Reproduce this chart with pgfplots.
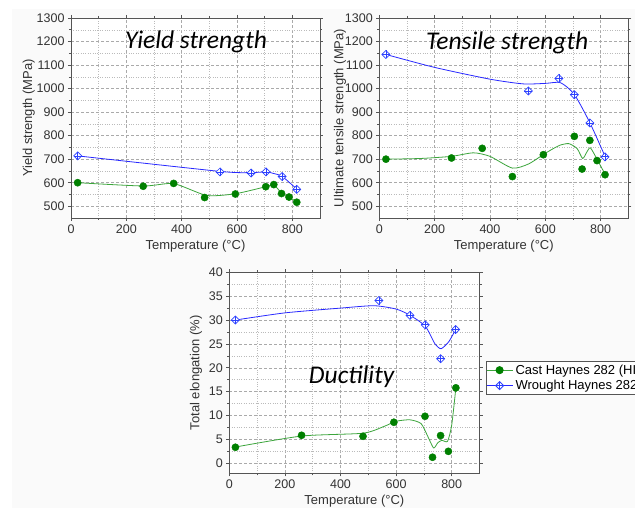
\documentclass[border=0pt]{standalone}
\usepackage{fontspec}
\setmainfont{Liberation Sans}
\newfontfamily\titlefont{Carlito}
\usepackage{pgfplots}
\pgfplotsset{compat=1.18}

\definecolor{castgreen}{RGB}{0,128,0}
\definecolor{castline}{RGB}{60,165,60}
\definecolor{wrblue}{RGB}{45,65,255}
\definecolor{wrline}{RGB}{40,40,255}
\definecolor{axgray}{RGB}{85,85,85}
\definecolor{gridgray}{RGB}{170,170,170}

% diamond with a cross inside
\pgfdeclareplotmark{dplus}{%
  \pgfpathmoveto{\pgfqpoint{0pt}{\pgfplotmarksize}}%
  \pgfpathlineto{\pgfqpoint{\pgfplotmarksize}{0pt}}%
  \pgfpathlineto{\pgfqpoint{0pt}{-\pgfplotmarksize}}%
  \pgfpathlineto{\pgfqpoint{-\pgfplotmarksize}{0pt}}%
  \pgfpathclose
  \pgfusepathqfillstroke
  \pgfpathmoveto{\pgfqpoint{0pt}{\pgfplotmarksize}}%
  \pgfpathlineto{\pgfqpoint{0pt}{-\pgfplotmarksize}}%
  \pgfpathmoveto{\pgfqpoint{\pgfplotmarksize}{0pt}}%
  \pgfpathlineto{\pgfqpoint{-\pgfplotmarksize}{0pt}}%
  \pgfusepathqstroke}

\pgfplotsset{
  panel/.style={
    scale only axis, width=249pt, height=200pt,
    xmin=0, xmax=900, xtick={0,200,...,800}, minor x tick num=1,
    minor y tick num=1,
    grid=both,
    major grid style={gridgray, dash pattern=on 3pt off 2pt, line width=0.5pt},
    minor grid style={gridgray!80, dotted, line width=0.5pt},
    axis line style={axgray, line width=0.9pt},
    tick style={axgray, line width=0.6pt},
    major tick length=3pt, minor tick length=2pt, tick align=outside,
    ticklabel style={font=\fontsize{12.5}{14}\selectfont, text=black!80},
    label style={font=\fontsize{13}{15}\selectfont, text=black!80},
    /pgf/number format/assume math mode=true,
    /pgf/number format/1000 sep={},
    axis background/.style={fill=white},
    xlabel={Temperature (°C)},
  },
  castpts/.style={only marks, mark=*, mark size=3.6pt, castgreen, forget plot},
  wrpts/.style={only marks, mark=dplus, mark size=4pt, wrblue, line width=0.7pt,
    mark options={fill=white}, forget plot},
  castfit/.style={castline, line width=0.8pt, smooth, tension=0.4, no marks, forget plot},
  wrfit/.style={wrline, line width=0.8pt, smooth, tension=0.4, no marks, forget plot},
}
\tikzset{ttl/.style={font=\titlefont\itshape\fontsize{25.5}{30}\selectfont}}

\begin{document}
\begin{tikzpicture}[x=1pt,y=1pt]
\fill[black!2] (12,0) rectangle (635,499);

% Yield strength
\begin{axis}[panel, at={(71pt,290pt)}, anchor=south west,
  ymin=450, ymax=1300, ytick={500,600,...,1300},
  ylabel={Yield strength (MPa)}, ylabel shift=-5pt]
\addplot[castfit] coordinates {(24,600) (261,586) (371,596) (490,546) (594,553) (704,583) (733,591) (761,556) (788,540) (816,517)};
\addplot[wrfit] coordinates {(24,714) (539,648) (651,643) (705,646) (730,640) (763,627) (816,573)};
\addplot[castpts] coordinates {(24,600) (261,585) (371,597) (483,537) (594,552) (704,583) (733,592) (761,554) (788,539) (816,517)};
\addplot[wrpts] coordinates {(24,714) (539,646) (651,641) (705,646) (763,626) (816,572)};
\node[ttl] at (axis cs:452,1197) {Yield strength};
\end{axis}

% Tensile strength
\begin{axis}[panel, at={(379.3pt,290pt)}, anchor=south west,
  ymin=450, ymax=1300, ytick={500,600,...,1300},
  ylabel={Ultimate tensile strength (MPa)}, ylabel shift=-8pt]
\addplot[castfit] coordinates {(24,700) (150,703) (261,712) (340,727) (400,712) (481,662) (540,680) (600,725) (650,758) (685,766) (715,745) (735,703) (750,730) (763,748) (787,700) (816,636)};
\addplot[wrfit] coordinates {(24,1145) (200,1090) (400,1040) (520,1020) (600,1022) (655,1025) (705,975) (761,855) (816,712)};
\addplot[castpts] coordinates {(24,700) (261,705) (372,746) (481,626) (593,719) (705,797) (733,658) (761,780) (787,694) (816,634)};
\addplot[wrpts] coordinates {(24,1145) (539,990) (649,1043) (705,974) (761,854) (816,710)};
\node[ttl] at (axis cs:462,1195) {Tensile strength};
\end{axis}

% Ductility
\begin{axis}[panel, at={(229.3pt,34.7pt)}, anchor=south west, width=250.2pt, height=201pt,
  ymin=-2.1, ymax=40, ytick={0,5,...,40},
  ylabel={Total elongation (\%)},
  legend style={at={(1.026,0.5587)}, anchor=north west, draw=axgray, fill=white,
    font=\fontsize{13}{15}\selectfont, inner xsep=0pt, inner ysep=2pt,
    row sep=1.5pt, nodes={inner xsep=2.5pt, inner ysep=1.5pt}},
  legend cell align=left,
  legend image code/.code={\draw[mark repeat=2, mark phase=2, #1]
    plot coordinates {(0pt,0pt) (13pt,0pt) (26pt,0pt)};}]
\addplot[castfit] coordinates {(22,3.4) (260,5.7) (481,6.3) (560,7.8) (600,8.8) (650,9.1) (690,8.3) (715,5.5) (735,3.2) (750,4.3) (765,4.8) (785,4.6) (800,8) (815,15.8)};
\addplot[wrfit] coordinates {(22,30) (200,31.5) (400,32.5) (520,33) (600,32.3) (650,31) (705,28.7) (740,25) (762,24) (790,25.5) (814,28)};
\addplot[castpts] coordinates {(22,3.35) (260,5.86) (481,5.65) (592,8.59) (704,9.84) (731,1.26) (760,5.8) (788,2.5) (815,15.8)};
\addplot[wrpts] coordinates {(22,30.0) (538,34.07) (650,31.0) (705,29.0) (760,21.9) (814,28.0)};
\node[ttl] at (axis cs:440,18.1) {Ductility};
\addlegendimage{castline, line width=0.8pt, mark=*, mark size=3.6pt, mark options={castgreen, fill=castgreen}}
\addlegendentry{Cast Haynes 282 (HIP)}
\addlegendimage{wrline, line width=0.8pt, mark=dplus, mark size=4pt, mark options={wrblue, fill=white}}
\addlegendentry{Wrought Haynes 282}
\end{axis}

\pgfresetboundingbox
\path[use as bounding box] (0,0) rectangle (635,508);
\end{tikzpicture}
\end{document}
